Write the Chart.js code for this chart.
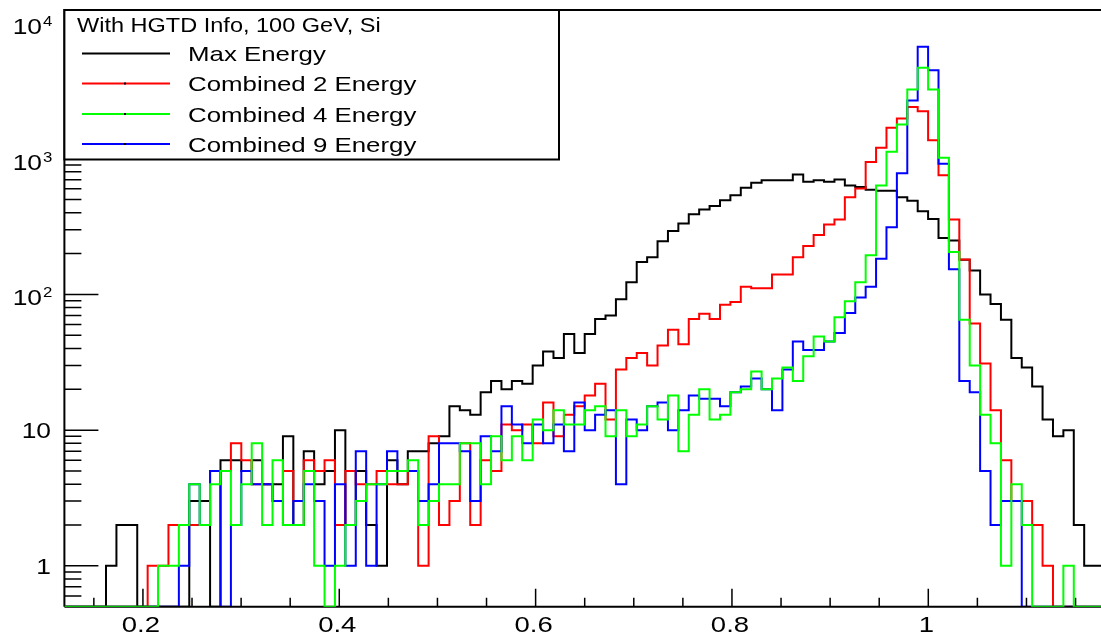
<!DOCTYPE html>
<html>
<head>
<meta charset="utf-8">
<script src="https://cdn.jsdelivr.net/npm/chart.js@4.4.1/dist/chart.umd.min.js"></script>
<style>
  html, body { margin: 0; padding: 0; background: #fff; overflow: hidden; }
  #canvas { position: absolute; left: 0; top: 0; }
</style>
</head>
<body>
<canvas id="canvas" width="1106" height="636"></canvas>
<script>
// histogram binning: 100 bins between 0.12 and 1.18
var binLow = 0.12;
var binHigh = 1.18;
var binCount = 100;

var maxEnergy = [
    0, 0, 0, 0, 1, 2, 2, 0, 0, 0,
    0, 0, 3, 3, 0, 6, 6, 5, 6, 4,
    4, 9, 2, 7, 4, 5, 10, 2, 5, 2,
    1, 6, 4, 7, 7, 8, 9, 15, 14, 13,
    19, 23, 20, 23, 22, 30, 38, 34, 51, 37,
    51, 66, 70, 92, 123, 173, 188, 247, 293, 333,
    389, 423, 448, 495, 537, 611, 665, 695, 695, 695,
    766, 677, 695, 677, 703, 636, 620, 590, 580, 580,
    520, 490, 410, 360, 260, 250, 180, 150, 100, 85,
    65, 34, 29, 21, 12, 9, 10, 2, 1, 1
];
var combined2 = [
    0, 0, 0, 0, 0, 0, 0, 0, 1, 1,
    2, 2, 2, 2, 5, 5, 8, 6, 4, 4,
    3, 5, 3, 6, 5, 6, 2, 5, 4, 4,
    5, 4, 4, 5, 1, 9, 2, 3, 8, 2,
    6, 5, 11, 10, 11, 8, 16, 9, 13, 15,
    18, 22, 12, 28, 34, 37, 30, 42, 55, 43,
    66, 72, 66, 84, 88, 114, 111, 111, 140, 140,
    188, 227, 274, 328, 357, 521, 604, 944, 1205, 1690,
    1980, 2400, 2240, 1370, 757, 357, 181, 61, 31, 14,
    6, 3, 3, 2, 1, 0, 0, 0, 0, 0
];
var combined4 = [
    0, 0, 0, 0, 0, 0, 0, 0, 0, 1,
    1, 2, 4, 2, 4, 5, 2, 4, 8, 2,
    6, 2, 2, 5, 1, 0, 1, 2, 3, 4,
    4, 5, 5, 6, 2, 3, 4, 4, 8, 8,
    4, 9, 6, 9, 6, 12, 10, 14, 11, 11,
    14, 15, 9, 14, 9, 11, 15, 12, 18, 7,
    13, 20, 12, 13, 19, 20, 27, 20, 24, 29,
    23, 35, 49, 45, 68, 89, 123, 194, 636, 1125,
    1790, 3240, 4680, 3240, 1017, 205, 65, 30, 13, 8,
    1, 4, 2, 0, 0, 0, 1, 0, 0, 0
];
var combined9 = [
    0, 0, 0, 0, 0, 0, 0, 0, 0, 0,
    0, 1, 4, 2, 5, 0, 2, 5, 4, 4,
    3, 2, 3, 4, 3, 1, 4, 1, 7, 1,
    4, 7, 5, 5, 3, 4, 8, 8, 7, 3,
    9, 7, 15, 11, 8, 11, 8, 11, 7, 16,
    10, 13, 14, 4, 12, 10, 15, 16, 10, 14,
    18, 17, 17, 15, 19, 21, 24, 20, 14, 28,
    45, 39, 39, 45, 52, 73, 95, 114, 183, 313,
    780, 2690, 6690, 4480, 918, 153, 23, 19, 5, 2,
    3, 3, 0, 0, 0, 0, 0, 0, 0, 0
];

var seriesNames = ['Max Energy', 'Combined 2 Energy', 'Combined 4 Energy', 'Combined 9 Energy'];
var seriesColors = ['#000000', '#ff0000', '#00ff00', '#0000ff'];
var legendTitle = 'With HGTD Info, 100 GeV, Si';

var xMajorTicks = [0.2, 0.4, 0.6, 0.8, 1.0];
var xTickLabels = ['0.2', '0.4', '0.6', '0.8', '1'];
var xMinorTicks = [0.15, 0.25, 0.3, 0.35, 0.45, 0.5, 0.55, 0.65, 0.7, 0.75, 0.85, 0.9, 0.95, 1.05, 1.1, 1.15];
var yMajorTicks = [1, 10, 100, 1000, 10000];
var yTickBase = ['1', '10', '10', '10', '10'];
var yTickExp = ['', '', '2', '3', '4'];
var yMinorTicks = [0.6, 0.7, 0.8, 0.9, 2, 3, 4, 5, 6, 7, 8, 9, 20, 30, 40, 50, 60, 70, 80, 90,
    200, 300, 400, 500, 600, 700, 800, 900, 2000, 3000, 4000, 5000, 6000, 7000, 8000, 9000];

var yMin = 0.5;
var yMax = 12470;
var FONT = '"Liberation Sans", Arial, sans-serif';

function histPoints(values) {
    var w = (binHigh - binLow) / binCount;
    var pts = [];
    for (var i = 0; i < values.length; i++) {
        pts.push({ x: binLow + i * w, y: Math.max(values[i], yMin) });
    }
    pts.push({ x: binLow + values.length * w, y: Math.max(values[values.length - 1], yMin) });
    return pts;
}

function stretchText(ctx, text, x, y, align, size, sx) {
    ctx.save();
    ctx.font = size + 'px ' + FONT;
    ctx.translate(x, y);
    ctx.scale(sx || 1.2, 1);
    ctx.textAlign = align;
    ctx.textBaseline = 'alphabetic';
    ctx.fillStyle = '#000';
    ctx.fillText(text, 0, 0);
    ctx.restore();
}

var framePlugin = {
    id: 'frame',
    beforeDatasetDraw: function (chart, args) {
        // frame goes over the first three histograms, under the green one
        if (args.index !== 3) return;
        var ctx = chart.ctx, a = chart.chartArea;
        var xs = chart.scales.x, ys = chart.scales.y;
        ctx.save();
        ctx.strokeStyle = '#000';
        ctx.lineWidth = 2;
        ctx.beginPath();
        ctx.moveTo(a.left, a.bottom);
        ctx.lineTo(a.left, a.top);
        ctx.lineTo(a.right, a.top);
        ctx.moveTo(a.left, a.bottom);
        ctx.lineTo(a.right, a.bottom);
        ctx.stroke();
        ctx.lineWidth = 1.5;
        ctx.beginPath();
        xMajorTicks.forEach(function (v) {
            var px = xs.getPixelForValue(v);
            ctx.moveTo(px, a.bottom);
            ctx.lineTo(px, a.bottom - 18);
        });
        xMinorTicks.forEach(function (v) {
            var px = xs.getPixelForValue(v);
            ctx.moveTo(px, a.bottom);
            ctx.lineTo(px, a.bottom - 9);
        });
        yMajorTicks.forEach(function (v) {
            var py = ys.getPixelForValue(v);
            ctx.moveTo(a.left, py);
            ctx.lineTo(a.left + 34, py);
        });
        yMinorTicks.forEach(function (v) {
            var py = ys.getPixelForValue(v);
            ctx.moveTo(a.left, py);
            ctx.lineTo(a.left + 17, py);
        });
        ctx.stroke();
        ctx.restore();
    },
    afterDraw: function (chart) {
        var ctx = chart.ctx, a = chart.chartArea;
        var xs = chart.scales.x, ys = chart.scales.y;

        // axis labels
        xMajorTicks.forEach(function (v, i) {
            stretchText(ctx, xTickLabels[i], xs.getPixelForValue(v) - 2, a.bottom + 25, 'center', 22, 1.25);
        });
        yMajorTicks.forEach(function (v, i) {
            var py = ys.getPixelForValue(v);
            if (yTickExp[i] === '') {
                stretchText(ctx, yTickBase[i], 51, py + 8, 'right', 22);
            } else {
                stretchText(ctx, yTickBase[i], 42, py + 11, 'right', 22);
                stretchText(ctx, yTickExp[i], 43, py + 3, 'left', 14);
            }
        });

        // legend box
        var lx = a.left, ly = a.top, lw = 559 - a.left, lh = 159.5 - a.top;
        ctx.save();
        ctx.fillStyle = '#fff';
        ctx.fillRect(lx, ly, lw, lh);
        ctx.strokeStyle = '#000';
        ctx.lineWidth = 2;
        ctx.strokeRect(lx, ly, lw, lh);
        ctx.restore();

        stretchText(ctx, legendTitle, 77, 31.5, 'left', 21, 1.12);
        var rows = [53.5, 83.5, 114, 144];
        seriesNames.forEach(function (name, i) {
            ctx.save();
            ctx.strokeStyle = seriesColors[i];
            ctx.lineWidth = 2;
            ctx.beginPath();
            ctx.moveTo(82, rows[i]);
            ctx.lineTo(170, rows[i]);
            ctx.stroke();
            if (i > 0) {
                ctx.fillStyle = '#000';
                ctx.fillRect(124, rows[i] - 1, 2, 2);
            }
            ctx.restore();
            stretchText(ctx, name, 188, rows[i] + 7.5, 'left', 21, 1.23);
        });
    }
};

var allSeries = [maxEnergy, combined2, combined9, combined4];
var colorOf = [seriesColors[0], seriesColors[1], seriesColors[3], seriesColors[2]];
var drawOrder = [4, 3, 2, 1];

var ctx = document.getElementById('canvas').getContext('2d');
var chart = new Chart(ctx, {
    type: 'line',
    data: {
        datasets: allSeries.map(function (vals, i) {
            return {
                data: histPoints(vals),
                borderColor: colorOf[i],
                borderWidth: 2,
                pointRadius: 0,
                stepped: 'before',
                fill: false,
                order: drawOrder[i],
                borderJoinStyle: 'miter',
                borderCapStyle: 'butt'
            };
        })
    },
    options: {
        responsive: false,
        animation: false,
        devicePixelRatio: 1,
        layout: { padding: { left: 64.4, right: 1, top: 10, bottom: 29.3 } },
        plugins: { legend: { display: false }, tooltip: { enabled: false } },
        scales: {
            x: { type: 'linear', min: binLow, max: binHigh, display: false },
            y: { type: 'logarithmic', min: yMin, max: yMax, display: false }
        }
    },
    plugins: [framePlugin]
});
</script>
</body>
</html>
